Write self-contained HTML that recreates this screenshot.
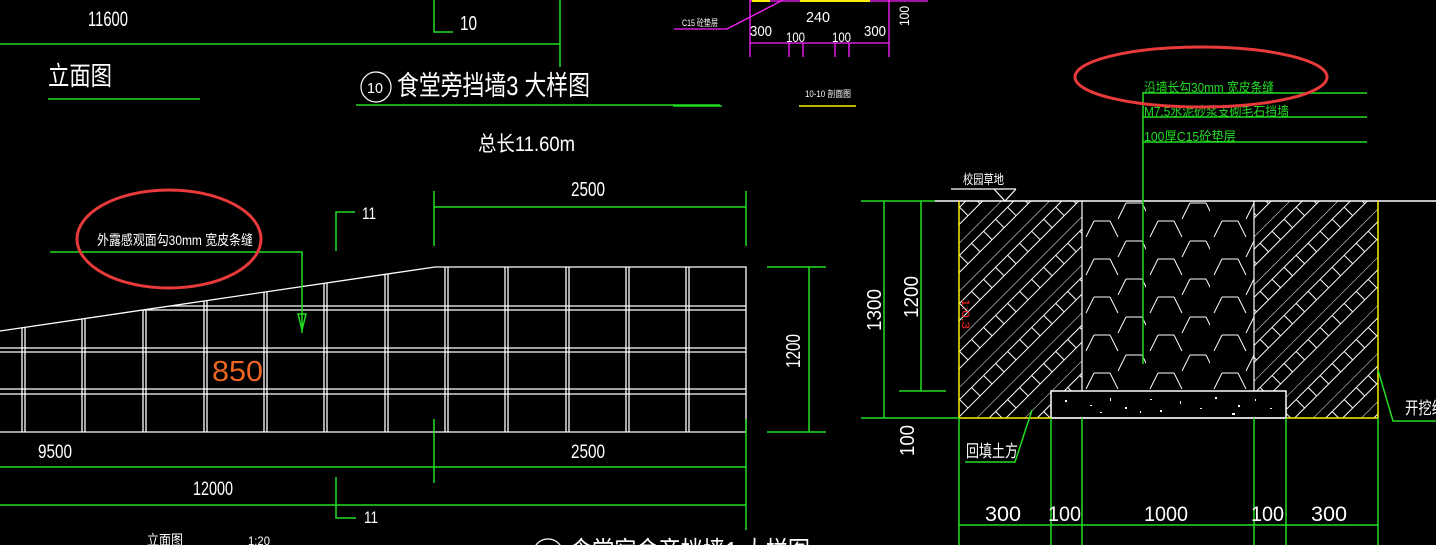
<!DOCTYPE html>
<html><head><meta charset="utf-8"><style>
html,body{margin:0;padding:0;background:#000;width:1436px;height:545px;overflow:hidden}
svg{display:block}
text{font-family:"Liberation Sans","Noto Sans CJK SC",sans-serif;fill:#fff}
</style></head><body>
<svg width="1436" height="545" viewBox="0 0 1436 545" xmlns="http://www.w3.org/2000/svg">
<defs>
<pattern id="diag" patternUnits="userSpaceOnUse" width="34" height="34" patternTransform="rotate(-45)">
<line x1="0" y1="0" x2="34" y2="0" stroke="#fff" stroke-width="1"/>
<line x1="0" y1="9" x2="34" y2="9" stroke="#fff" stroke-width="1"/>
<line x1="0" y1="21" x2="34" y2="21" stroke="#fff" stroke-width="1"/>
<line x1="5" y1="9" x2="5" y2="21" stroke="#fff" stroke-width="1"/>
<line x1="22" y1="9" x2="22" y2="21" stroke="#fff" stroke-width="1"/>
</pattern>
<pattern id="hex" patternUnits="userSpaceOnUse" x="1082" y="201" width="64" height="38">
<line x1="12" y1="20" x2="28" y2="20" stroke="#fff"/>
<line x1="12" y1="20" x2="4" y2="36" stroke="#fff"/>
<line x1="28" y1="20" x2="36" y2="36" stroke="#fff"/>
<line x1="44" y1="2" x2="60" y2="2" stroke="#fff"/>
<line x1="44" y1="2" x2="36" y2="18" stroke="#fff"/>
<line x1="60" y1="2" x2="68" y2="18" stroke="#fff"/>
</pattern>
</defs>

<!-- ===== Top-left ===== -->
<g stroke="#22dd22" stroke-width="1.5" fill="none">
<line x1="0" y1="44" x2="560" y2="44"/>
<line x1="560" y1="0" x2="560" y2="67"/>
<polyline points="434,0 434,32 453,32"/>
<line x1="48" y1="99" x2="200" y2="99"/>
<line x1="356" y1="146" x2="720" y2="146" stroke="none"/>
<line x1="356" y1="105" x2="720" y2="105"/>
<line x1="673" y1="106" x2="722" y2="106"/>
</g>
<text x="88" y="26" font-size="21" textLength="40" lengthAdjust="spacingAndGlyphs">11600</text>
<text x="460" y="30" font-size="20" textLength="17" lengthAdjust="spacingAndGlyphs">10</text>
<text x="48" y="85" font-size="26" textLength="64" lengthAdjust="spacingAndGlyphs">立面图</text>
<circle cx="376" cy="87" r="15" stroke="#fff" fill="none" stroke-width="1.2"/>
<text x="367" y="93" font-size="15" textLength="16" lengthAdjust="spacingAndGlyphs">10</text>
<text x="397" y="95" font-size="27" textLength="193" lengthAdjust="spacingAndGlyphs">食堂旁挡墙3 大样图</text>
<text x="478" y="151" font-size="21" textLength="97" lengthAdjust="spacingAndGlyphs">总长11.60m</text>

<!-- ===== Top middle magenta ===== -->
<g stroke="#ff22ff" stroke-width="1.3" fill="none">
<line x1="750" y1="1" x2="928" y2="1"/>
<line x1="750" y1="0" x2="750" y2="57"/>
<line x1="889" y1="0" x2="889" y2="57"/>
<line x1="750" y1="43" x2="889" y2="43"/>
<line x1="789" y1="43" x2="789" y2="57"/>
<line x1="803" y1="43" x2="803" y2="57"/>
<line x1="835" y1="43" x2="835" y2="57"/>
<line x1="849" y1="43" x2="849" y2="57"/>
<polyline points="674,29 727,29 783,0"/>
</g>
<g stroke="#ffee00" stroke-width="2"><line x1="752" y1="1" x2="770" y2="1"/><line x1="800" y1="1" x2="870" y2="1"/></g>
<text x="806" y="22" font-size="15" textLength="24" lengthAdjust="spacingAndGlyphs">240</text>
<text x="750" y="36" font-size="15" textLength="22" lengthAdjust="spacingAndGlyphs">300</text>
<text x="786" y="42" font-size="14" textLength="19" lengthAdjust="spacingAndGlyphs">100</text>
<text x="832" y="42" font-size="14" textLength="19" lengthAdjust="spacingAndGlyphs">100</text>
<text x="864" y="36" font-size="15" textLength="22" lengthAdjust="spacingAndGlyphs">300</text>
<text transform="translate(909,26) rotate(-90)" font-size="14" textLength="20" lengthAdjust="spacingAndGlyphs">100</text>
<text x="682" y="26" font-size="9" textLength="36" lengthAdjust="spacingAndGlyphs">C15 砼垫层</text>
<text x="805" y="97" font-size="9" textLength="46" lengthAdjust="spacingAndGlyphs">10-10 剖面图</text>
<line x1="799" y1="106" x2="856" y2="106" stroke="#ffee00" stroke-width="1.5"/>

<!-- ===== Elevation grid ===== -->
<clipPath id="wallclip"><polygon points="0,331 435,267 746,267 746,432 0,432"/></clipPath>
<g stroke="#fff" stroke-width="1.3" fill="none">
<polyline points="0,331 435,267 746,267 746,432 0,432"/>
<g clip-path="url(#wallclip)">
<line x1="0" y1="306" x2="746" y2="306"/><line x1="0" y1="310" x2="746" y2="310"/>
<line x1="0" y1="348" x2="746" y2="348"/><line x1="0" y1="352" x2="746" y2="352"/>
<line x1="0" y1="389" x2="746" y2="389"/><line x1="0" y1="394" x2="746" y2="394"/>
<g>
<line x1="22" y1="260" x2="22" y2="432"/><line x1="25" y1="260" x2="25" y2="432"/>
<line x1="82" y1="260" x2="82" y2="432"/><line x1="85" y1="260" x2="85" y2="432"/>
<line x1="143" y1="260" x2="143" y2="432"/><line x1="146" y1="260" x2="146" y2="432"/>
<line x1="204" y1="260" x2="204" y2="432"/><line x1="207" y1="260" x2="207" y2="432"/>
<line x1="264" y1="260" x2="264" y2="432"/><line x1="267" y1="260" x2="267" y2="432"/>
<line x1="324" y1="260" x2="324" y2="432"/><line x1="327" y1="260" x2="327" y2="432"/>
<line x1="385" y1="260" x2="385" y2="432"/><line x1="388" y1="260" x2="388" y2="432"/>
<line x1="445" y1="260" x2="445" y2="432"/><line x1="448" y1="260" x2="448" y2="432"/>
<line x1="505" y1="260" x2="505" y2="432"/><line x1="508" y1="260" x2="508" y2="432"/>
<line x1="566" y1="260" x2="566" y2="432"/><line x1="569" y1="260" x2="569" y2="432"/>
<line x1="626" y1="260" x2="626" y2="432"/><line x1="629" y1="260" x2="629" y2="432"/>
<line x1="686" y1="260" x2="686" y2="432"/><line x1="689" y1="260" x2="689" y2="432"/>
</g></g></g>
<text x="212" y="381" font-size="29" fill="#ee6622" style="fill:#ee6622" textLength="51" lengthAdjust="spacingAndGlyphs">850</text>

<!-- leader & ellipse -->
<g stroke="#22dd22" stroke-width="1.5" fill="none">
<polyline points="50,252 302,252 302,333"/>
<polygon points="298,314 306,314 302,330"/>
<polyline points="336,251 336,212 355,212"/>
<line x1="434" y1="191" x2="434" y2="246"/>
<line x1="746" y1="191" x2="746" y2="246"/>
<line x1="434" y1="207" x2="746" y2="207"/>
<line x1="767" y1="267" x2="826" y2="267"/>
<line x1="767" y1="432" x2="826" y2="432"/>
<line x1="809" y1="267" x2="809" y2="432"/>
<line x1="0" y1="467" x2="746" y2="467"/>
<line x1="0" y1="505" x2="746" y2="505"/>
<line x1="434" y1="419" x2="434" y2="483"/>
<line x1="746" y1="419" x2="746" y2="530"/>
<polyline points="336,477 336,518 356,518"/>
</g>
<text x="97" y="245" font-size="14" textLength="156" lengthAdjust="spacingAndGlyphs">外露感观面勾30mm 宽皮条缝</text>
<ellipse cx="169" cy="239" rx="92" ry="49" stroke="#e83a3a" stroke-width="3" fill="none"/>
<text x="362" y="219" font-size="17" textLength="14" lengthAdjust="spacingAndGlyphs">11</text>
<text x="571" y="196" font-size="20" textLength="34" lengthAdjust="spacingAndGlyphs">2500</text>
<text transform="translate(800,368) rotate(-90)" font-size="20" textLength="34" lengthAdjust="spacingAndGlyphs">1200</text>
<text x="38" y="458" font-size="19" textLength="34" lengthAdjust="spacingAndGlyphs">9500</text>
<text x="571" y="458" font-size="19" textLength="34" lengthAdjust="spacingAndGlyphs">2500</text>
<text x="193" y="495" font-size="19" textLength="40" lengthAdjust="spacingAndGlyphs">12000</text>
<text x="364" y="523" font-size="17" textLength="14" lengthAdjust="spacingAndGlyphs">11</text>
<text x="147" y="545" font-size="14" textLength="36" lengthAdjust="spacingAndGlyphs">立面图</text>
<text x="248" y="545" font-size="12" textLength="22" lengthAdjust="spacingAndGlyphs">1:20</text>
<circle cx="548" cy="554" r="15" stroke="#fff" fill="none" stroke-width="1.2"/>
<text x="570" y="560" font-size="26" textLength="240" lengthAdjust="spacingAndGlyphs">食堂宿舍旁挡墙1 大样图</text>

<!-- ===== Right section ===== -->
<rect x="959" y="201" width="123" height="217" fill="url(#diag)"/>
<rect x="1254" y="201" width="124" height="217" fill="url(#diag)"/>
<rect x="1082" y="201" width="172" height="190" fill="url(#hex)"/>
<rect x="1051" y="391" width="235" height="27" fill="#000" stroke="#fff" stroke-width="1.5"/>
<g fill="#fff">
<rect x="1065" y="400" width="2" height="2"/><rect x="1090" y="405" width="2" height="1"/><rect x="1110" y="398" width="1" height="3"/>
<rect x="1125" y="407" width="2" height="2"/><rect x="1150" y="399" width="2" height="1"/><rect x="1160" y="410" width="2" height="2"/>
<rect x="1180" y="401" width="1" height="3"/><rect x="1200" y="408" width="2" height="1"/><rect x="1215" y="397" width="2" height="2"/>
<rect x="1238" y="405" width="2" height="2"/><rect x="1255" y="399" width="1" height="2"/><rect x="1270" y="408" width="2" height="1"/>
<rect x="1100" y="412" width="2" height="1"/><rect x="1140" y="411" width="1" height="2"/><rect x="1232" y="413" width="3" height="2"/>
</g>
<g stroke="#fff" stroke-width="1.2">
<line x1="1082" y1="201" x2="1082" y2="391"/>
<line x1="1254" y1="201" x2="1254" y2="391"/>
<line x1="935" y1="201" x2="1436" y2="201" stroke-width="1.5"/>
<line x1="1051" y1="418" x2="1286" y2="418"/>
</g>
<g stroke="#ffee00" stroke-width="1.5" fill="none">
<line x1="959" y1="201" x2="959" y2="418"/>
<line x1="1378" y1="201" x2="1378" y2="418"/>
<line x1="959" y1="418" x2="1051" y2="418"/>
<line x1="1286" y1="418" x2="1378" y2="418"/>
</g>
<g stroke="#22dd22" stroke-width="1.5" fill="none">
<line x1="861" y1="201" x2="935" y2="201"/>
<line x1="861" y1="418" x2="959" y2="418"/>
<line x1="884" y1="201" x2="884" y2="418"/>
<line x1="921" y1="201" x2="921" y2="391"/>
<line x1="899" y1="391" x2="946" y2="391"/>
<line x1="1143" y1="92" x2="1143" y2="364"/>
<line x1="1143" y1="93" x2="1367" y2="93"/>
<line x1="1143" y1="117" x2="1367" y2="117"/>
<line x1="1143" y1="142" x2="1367" y2="142"/>
<polyline points="965,462 1015,462 1032,410"/>
<polyline points="1378,370 1393,421 1436,421"/>
<line x1="959" y1="418" x2="959" y2="545"/>
<line x1="1051" y1="418" x2="1051" y2="545"/>
<line x1="1082" y1="418" x2="1082" y2="545"/>
<line x1="1254" y1="418" x2="1254" y2="545"/>
<line x1="1286" y1="418" x2="1286" y2="545"/>
<line x1="1378" y1="418" x2="1378" y2="545"/>
<line x1="959" y1="525" x2="1378" y2="525"/>
</g>
<g stroke="#fff" stroke-width="1.2" fill="none">
<line x1="951" y1="189" x2="1016" y2="189"/>
<polyline points="994,189 1005,201 1016,189"/>
</g>
<text x="963" y="184" font-size="13" textLength="41" lengthAdjust="spacingAndGlyphs">校园草地</text>
<text transform="translate(881,331) rotate(-90)" font-size="20" textLength="42" lengthAdjust="spacingAndGlyphs">1300</text>
<text transform="translate(918,318) rotate(-90)" font-size="20" textLength="42" lengthAdjust="spacingAndGlyphs">1200</text>
<text transform="translate(914,456) rotate(-90)" font-size="20" textLength="31" lengthAdjust="spacingAndGlyphs">100</text>
<text transform="translate(962,299) rotate(90)" font-size="11" style="fill:#ff2222" textLength="30" lengthAdjust="spacingAndGlyphs">1:0.3</text>
<text x="966" y="457" font-size="17" textLength="52" lengthAdjust="spacingAndGlyphs">回填土方</text>
<text x="1405" y="414" font-size="17" textLength="40" lengthAdjust="spacingAndGlyphs">开挖线</text>
<text x="985" y="521" font-size="21" textLength="36" lengthAdjust="spacingAndGlyphs">300</text>
<text x="1048" y="521" font-size="21" textLength="33" lengthAdjust="spacingAndGlyphs">100</text>
<text x="1144" y="521" font-size="21" textLength="44" lengthAdjust="spacingAndGlyphs">1000</text>
<text x="1251" y="521" font-size="21" textLength="33" lengthAdjust="spacingAndGlyphs">100</text>
<text x="1311" y="521" font-size="21" textLength="36" lengthAdjust="spacingAndGlyphs">300</text>
<text x="1144" y="92" font-size="13" style="fill:#22dd22" textLength="130" lengthAdjust="spacingAndGlyphs">沿墙长勾30mm 宽皮条缝</text>
<text x="1144" y="116" font-size="13" style="fill:#22dd22" textLength="145" lengthAdjust="spacingAndGlyphs">M7.5水泥砂浆支砌毛石挡墙</text>
<text x="1144" y="141" font-size="13" style="fill:#22dd22" textLength="92" lengthAdjust="spacingAndGlyphs">100厚C15砼垫层</text>
<ellipse cx="1201" cy="77" rx="126" ry="30" stroke="#e83a3a" stroke-width="3" fill="none"/>
</svg>
</body></html>
